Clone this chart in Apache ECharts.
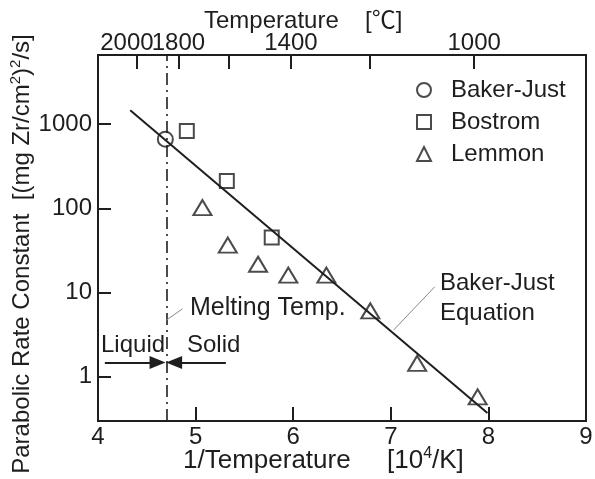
<!DOCTYPE html>
<html>
<head>
<meta charset="utf-8">
<script src="https://cdn.jsdelivr.net/npm/echarts@6/dist/echarts.min.js"></script>
<style>html,body{margin:0;padding:0;background:#fff;}#c{width:595px;height:479px;}</style>
</head>
<body>
<div id="c"></div>
<script>
// ---- data ----
const xTicks = [4, 5, 6, 7, 8, 9];                 // 1/T [10^4/K]
const yTickValues = [1, 10, 100, 1000];
const topTempsC = [2000, 1800, 1600, 1400, 1200, 1000];   // top axis ticks [°C]
const topLabeledC = [1800, 1400, 1000];
const topShiftedC = [2000];

const bakerJustX = [4.69];
const bakerJustY = [664];
const bostromX = [4.91, 5.32, 5.78];
const bostromY = [832, 212, 45];
const lemmonX = [5.07, 5.33, 5.64, 5.95, 6.34, 6.79, 7.27, 7.89];
const lemmonY = [102, 36.6, 21.7, 16.1, 16.1, 6.07, 1.44, 0.577];
const equationX = [4.33, 7.99];
const equationY = [1466, 0.372];
const meltingX = 4.70;
const arrowY = 1.48;
const liquidArrowX = [4.07, 4.61];
const solidArrowX = [5.31, 4.78];
const meltLeader = [[4.70, 4.7], [4.865, 6.4]];
const bjLeader = [[7.03, 3.6], [7.45, 11.7]];

const FONT = '"Liberation Sans", Arial, "Noto Sans CJK JP", sans-serif';
const INK = '#1e1e1e';
const zip = (xs, ys) => xs.map((x, i) => [x, ys[i]]);
const toInv = c => 10000 / (c + 273.15);

const chart = echarts.init(document.getElementById('c'), null, {renderer: 'canvas'});
const hollow = {color: 'rgba(0,0,0,0)', borderColor: INK, borderWidth: 2};
const tickStyle = {color: INK, width: 2};
const fmtC = v => String(Math.round((10000 / v - 273.15) / 100) * 100);
const Y_MIN = 0.298, Y_MAX = 6640;

const option = {
  animation: false,
  backgroundColor: '#fff',
  textStyle: {fontFamily: FONT},
  grid: {left: 98, right: 9, top: 55, bottom: 58, show: true, borderColor: INK, borderWidth: 2,
         backgroundColor: 'rgba(0,0,0,0)',
         containLabel: false, outerBoundsMode: 'none'},
  legend: {
    orient: 'vertical', left: 411, top: 73, itemGap: 8, itemWidth: 14, itemHeight: 14,
    data: ['Baker-Just', 'Bostrom', 'Lemmon'],
    textStyle: {fontSize: 24, color: INK, fontFamily: FONT, padding: [0, 0, 0, 15]},
    selectedMode: false
  },
  xAxis: [{
    // bottom tick axis: shifted into the plot, ticks point back down to the frame
    type: 'value', position: 'bottom', offset: -14, min: xTicks[0], max: xTicks[xTicks.length - 1], interval: 1,
    axisLine: {show: false},
    axisTick: {show: true, inside: false, length: 14, lineStyle: tickStyle},
    axisLabel: {show: false},
    splitLine: {show: false}
  }, {
    // top axis (°C): ticks pointing into the plot
    type: 'value', position: 'top', min: xTicks[0], max: xTicks[xTicks.length - 1],
    axisLine: {show: true, lineStyle: tickStyle},
    axisTick: {show: true, inside: true, length: 14, lineStyle: tickStyle,
               customValues: topTempsC.map(toInv)},
    axisLabel: {show: true, fontSize: 24, color: INK, margin: 0, fontFamily: FONT, hideOverlap: false,
      showMinLabel: true, showMaxLabel: true,
      customValues: topLabeledC.map(toInv), formatter: fmtC},
    splitLine: {show: false}
  }, {
    // bottom axis: line + labels
    type: 'value', position: 'bottom', min: xTicks[0], max: xTicks[xTicks.length - 1], interval: 1,
    axisLine: {show: true, lineStyle: tickStyle},
    axisTick: {show: false},
    axisLabel: {show: true, fontSize: 24, color: INK, margin: 4, fontFamily: FONT},
    splitLine: {show: false}
  }, {
    // top axis: the crowded 2000 label, nudged left
    type: 'value', position: 'top', min: xTicks[0], max: xTicks[xTicks.length - 1],
    axisLine: {show: false}, axisTick: {show: false},
    axisLabel: {show: true, fontSize: 24, color: INK, margin: 0, fontFamily: FONT,
      showMinLabel: true, showMaxLabel: true,
      customValues: topShiftedC.map(toInv),
      formatter: v => '{l|' + fmtC(v) + '}',
      rich: {l: {fontSize: 24, color: INK, fontFamily: FONT, padding: [0, 20, 0, 0]}}},
    splitLine: {show: false}
  }],
  yAxis: [{
    // left tick axis: shifted into the plot, ticks point back to the frame
    type: 'log', position: 'left', offset: -13, min: Y_MIN, max: Y_MAX, logBase: 10,
    axisLine: {show: false},
    axisTick: {show: true, inside: false, length: 13, lineStyle: tickStyle},
    axisLabel: {show: false},
    splitLine: {show: false}
  }, {
    type: 'log', position: 'left', min: Y_MIN, max: Y_MAX, logBase: 10,
    axisLine: {show: true, lineStyle: tickStyle},
    axisTick: {show: false},
    axisLabel: {show: true, fontSize: 24, color: INK, margin: 6, fontFamily: FONT,
                showMinLabel: false, showMaxLabel: false,
                formatter: v => (yTickValues.indexOf(Math.round(v)) >= 0 ? String(Math.round(v)) : '')},
    splitLine: {show: false}
  }],
  series: [{
    name: 'Baker-Just Equation', type: 'line', data: zip(equationX, equationY),
    symbol: 'none', lineStyle: {color: INK, width: 2}, z: 2,
    markLine: {
      silent: true, symbol: ['none', 'none'], label: {show: false}, animation: false,
      data: [
        [{coord: [meltingX, Y_MIN], lineStyle: {color: INK, width: 1.6, type: [12, 5, 2, 5]}},
         {coord: [meltingX, Y_MAX]}],
        [{coord: [liquidArrowX[0], arrowY], lineStyle: {color: INK, width: 2, type: 'solid'}},
         {coord: [liquidArrowX[1], arrowY], symbol: 'triangle', symbolSize: [13, 16]}],
        [{coord: [solidArrowX[0], arrowY], lineStyle: {color: INK, width: 2, type: 'solid'}},
         {coord: [solidArrowX[1], arrowY], symbol: 'triangle', symbolSize: [13, 16]}],
        [{coord: meltLeader[0], lineStyle: {color: '#888', width: 1, type: 'solid'}},
         {coord: meltLeader[1]}],
        [{coord: bjLeader[0], lineStyle: {color: '#888', width: 1, type: 'solid'}},
         {coord: bjLeader[1]}]
      ]
    }
  }, {
    name: 'Baker-Just', type: 'scatter', data: zip(bakerJustX, bakerJustY),
    symbol: 'circle', symbolSize: 15, itemStyle: hollow, z: 3
  }, {
    name: 'Bostrom', type: 'scatter', data: zip(bostromX, bostromY),
    symbol: 'rect', symbolSize: 14, itemStyle: hollow, z: 3
  }, {
    name: 'Lemmon', type: 'scatter', data: zip(lemmonX, lemmonY),
    symbol: 'triangle', symbolSize: [18, 15], itemStyle: hollow, z: 3
  }],
  graphic: [
    {type: 'text', x: 204, y: 21, style: {text: 'Temperature', font: '24px ' + FONT, fill: INK, verticalAlign: 'middle'}},
    {type: 'text', x: 365, y: 21, style: {text: '[℃]', font: '24px ' + FONT, fill: INK, verticalAlign: 'middle'}},
    {type: 'text', x: 183, y: 461, style: {text: '1/Temperature', font: '26px ' + FONT, fill: INK, verticalAlign: 'middle'}},
    {type: 'text', x: 387, y: 461, style: {
      text: '{a|[10}{s|4}{a|/K]}', verticalAlign: 'middle',
      rich: {a: {fontSize: 26, fontFamily: FONT, fill: INK, color: INK, lineHeight: 30},
             s: {fontSize: 16, fontFamily: FONT, fill: INK, color: INK, lineHeight: 16, verticalAlign: 'top'}}}},
    {type: 'text', x: 22, y: 254, rotation: Math.PI / 2, style: {
      text: '{a|Parabolic Rate Constant  [(mg Zr/cm}{s|2}{a|)}{s|2}{a|/s]}', align: 'center', verticalAlign: 'middle',
      rich: {a: {fontSize: 24, fontFamily: FONT, fill: INK, color: INK, lineHeight: 28},
             s: {fontSize: 15, fontFamily: FONT, fill: INK, color: INK, lineHeight: 15, verticalAlign: 'top'}}}},
    {type: 'text', x: 190, y: 308, style: {text: 'Melting Temp.', font: '25px ' + FONT, fill: INK, verticalAlign: 'middle'}},
    {type: 'text', x: 101, y: 345, style: {text: 'Liquid', font: '24px ' + FONT, fill: INK, verticalAlign: 'middle'}},
    {type: 'text', x: 187, y: 345, style: {text: 'Solid', font: '24px ' + FONT, fill: INK, verticalAlign: 'middle'}},
    {type: 'text', x: 440, y: 283, style: {text: 'Baker-Just', font: '24px ' + FONT, fill: INK, verticalAlign: 'middle'}},
    {type: 'text', x: 440, y: 313, style: {text: 'Equation', font: '24px ' + FONT, fill: INK, verticalAlign: 'middle'}}
  ]
};
chart.setOption(option);
</script>
</body>
</html>
